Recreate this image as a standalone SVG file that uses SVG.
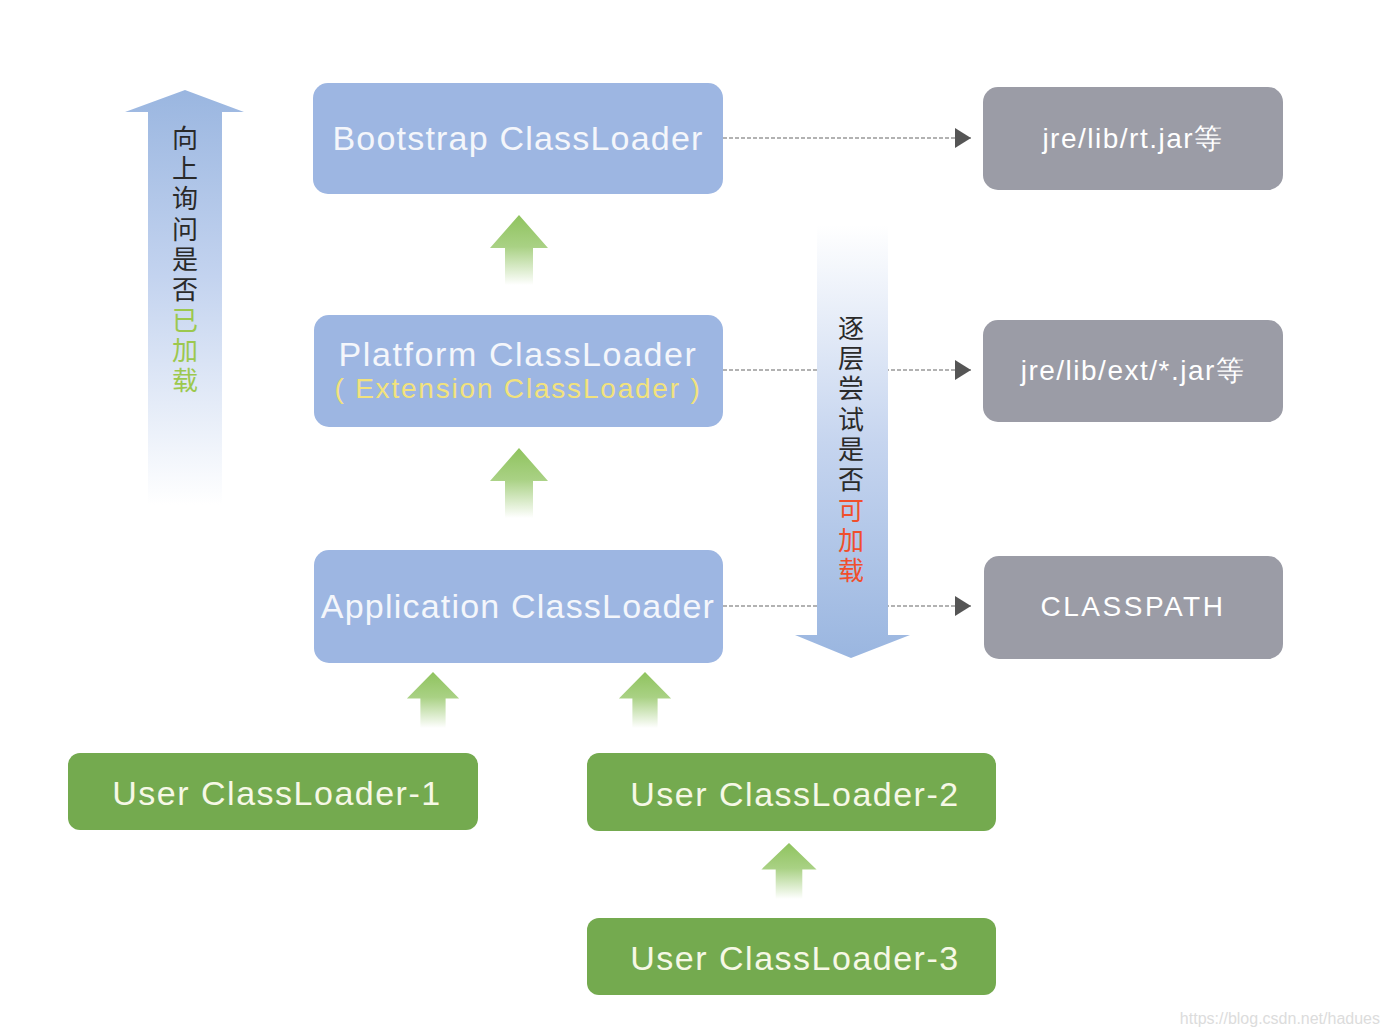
<svg xmlns="http://www.w3.org/2000/svg" width="1390" height="1036" viewBox="0 0 1390 1036">
<defs>
<style>
.blue{fill:#9db6e2;}
.gray{fill:#9b9ca6;}
.green{fill:#74aa4f;}
.bt{font-family:"Liberation Sans",Arial,sans-serif;fill:#f4f6fb;font-size:34px;letter-spacing:1.2px;text-anchor:middle;}
.gt{font-family:"Liberation Sans",Arial,sans-serif;fill:#ffffff;font-size:28px;letter-spacing:1.5px;text-anchor:middle;}
.ut{font-family:"Liberation Sans",Arial,sans-serif;fill:#f6f8e6;font-size:34px;letter-spacing:1.5px;text-anchor:middle;}
.yt{font-family:"Liberation Sans",Arial,sans-serif;fill:#f2e27c;font-size:28px;letter-spacing:1.8px;text-anchor:middle;}
.cj{font-family:"Noto Sans CJK SC",sans-serif;font-size:26px;writing-mode:vertical-rl;letter-spacing:4.3px;}
.dash{stroke:#666;stroke-width:1.2;stroke-dasharray:4 2;fill:none;}
</style>
<linearGradient id="gUp" x1="0" y1="0" x2="0" y2="1">
<stop offset="0" stop-color="#8fc35e"/>
<stop offset="0.45" stop-color="#a9d184"/>
<stop offset="1" stop-color="#ffffff"/>
</linearGradient>
<linearGradient id="bUp" x1="0" y1="0" x2="0" y2="1">
<stop offset="0" stop-color="#9ab6e0"/>
<stop offset="0.45" stop-color="#c3d3ef"/>
<stop offset="1" stop-color="#ffffff"/>
</linearGradient>
<linearGradient id="bDown" x1="0" y1="1" x2="0" y2="0">
<stop offset="0" stop-color="#9ab6e0"/>
<stop offset="0.5" stop-color="#c6d5ef"/>
<stop offset="1" stop-color="#ffffff"/>
</linearGradient>
<marker id="tri" viewBox="0 0 16 20" refX="16" refY="10" markerWidth="16" markerHeight="20" markerUnits="userSpaceOnUse" orient="auto">
<path d="M0,0 L16,10 L0,20 Z" fill="#555"/>
</marker>
<path id="garrow" d="M0,0 L29,33 L14,33 L14,70 L-14,70 L-14,33 L-29,33 Z" fill="url(#gUp)"/>
</defs>
<rect width="1390" height="1036" fill="#ffffff"/>

<g id="connectors">
<line class="dash" x1="723" y1="138" x2="971" y2="138" marker-end="url(#tri)"/>
<line class="dash" x1="723" y1="370" x2="971" y2="370" marker-end="url(#tri)"/>
<line class="dash" x1="723" y1="606" x2="971" y2="606" marker-end="url(#tri)"/>
<use href="#garrow" x="519" y="215"/>
<use href="#garrow" x="519" y="448"/>
<use href="#garrow" transform="translate(433,672) scale(0.9,0.8)"/>
<use href="#garrow" transform="translate(645,672) scale(0.9,0.8)"/>
<use href="#garrow" transform="translate(789,843) scale(0.95,0.8)"/>
</g>

<g id="up-arrow">
<path d="M185,90 L244,112 L222,112 L222,505 L148,505 L148,112 L125,112 Z" fill="url(#bUp)"/>
<text class="cj" x="185" y="125" fill="#2a2a2a">向上询问是否<tspan fill="#9cc84e">已加载</tspan></text>
</g>

<g id="down-arrow">
<path d="M817,225 L888,225 L888,635 L910,635 L851,658 L795,635 L817,635 Z" fill="url(#bDown)"/>
<text class="cj" x="851" y="315" fill="#2a2a2a">逐层尝试是否<tspan fill="#f04f2c">可加载</tspan></text>
</g>

<g id="bootstrap">
<rect class="blue" x="313" y="83" width="410" height="111" rx="15"/>
<text class="bt" x="518" y="150">Bootstrap ClassLoader</text>
</g>
<g id="platform">
<rect class="blue" x="314" y="315" width="409" height="112" rx="15"/>
<text class="bt" x="518" y="366" style="letter-spacing:1.6px">Platform ClassLoader</text>
<text class="yt" x="518" y="398">( Extension ClassLoader )</text>
</g>
<g id="application">
<rect class="blue" x="314" y="550" width="409" height="113" rx="15"/>
<text class="bt" x="518" y="618">Application ClassLoader</text>
</g>

<g id="rtjar">
<rect class="gray" x="983" y="87" width="300" height="103" rx="15"/>
<text class="gt" x="1133" y="148">jre/lib/rt.jar等</text>
</g>
<g id="extjar">
<rect class="gray" x="983" y="320" width="300" height="102" rx="15"/>
<text class="gt" x="1133" y="380">jre/lib/ext/*.jar等</text>
</g>
<g id="classpath">
<rect class="gray" x="984" y="556" width="299" height="103" rx="15"/>
<text class="gt" x="1133" y="616" style="letter-spacing:2.5px">CLASSPATH</text>
</g>

<g id="user1">
<rect class="green" x="68" y="753" width="410" height="77" rx="12"/>
<text class="ut" x="277" y="805">User ClassLoader-1</text>
</g>
<g id="user2">
<rect class="green" x="587" y="753" width="409" height="78" rx="12"/>
<text class="ut" x="795" y="806">User ClassLoader-2</text>
</g>
<g id="user3">
<rect class="green" x="587" y="918" width="409" height="77" rx="12"/>
<text class="ut" x="795" y="970">User ClassLoader-3</text>
</g>

<text x="1380" y="1024" text-anchor="end" style="font-family:'Liberation Sans',Arial,sans-serif;font-size:16px;fill:#dcdcdc">https://blog.csdn.net/hadues</text>
</svg>
